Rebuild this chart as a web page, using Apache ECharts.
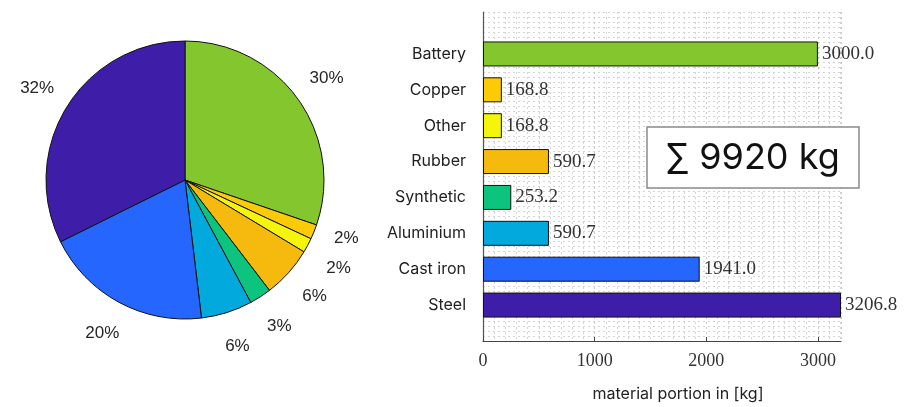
<!DOCTYPE html>
<html>
<head>
<meta charset="utf-8">
<script src="https://cdn.jsdelivr.net/npm/echarts@6/dist/echarts.min.js"></script>
<style>
  html, body { margin: 0; padding: 0; background: #fff; }
  #chart { width: 904px; height: 407px; }
</style>
</head>
<body>
<div id="chart"></div>
<script>
// materials, top of the bar chart first (pie goes clockwise from 12 o'clock in the same order)
var materials = ['Battery', 'Copper', 'Other', 'Rubber', 'Synthetic', 'Aluminium', 'Cast iron', 'Steel'];
var masses = [3000.0, 168.8, 168.8, 590.7, 253.2, 590.7, 1941.0, 3206.8];
var colors = ['#84c62d', '#fdcb05', '#f5f50c', '#f6b90d', '#0dc47f', '#02a9dc', '#2566fe', '#3e1ea8'];
var xTicks = [0, 1000, 2000, 3000];

var total = 0;
for (var i = 0; i < masses.length; i++) total += masses[i];
var maxMass = Math.max.apply(null, masses);

var pieData = [];
var labelData = [];
var barData = [];
for (var i = 0; i < materials.length; i++) {
  pieData.push({ name: materials[i], value: masses[i], itemStyle: { color: colors[i] } });
  labelData.push({ name: materials[i], value: masses[i] });
  barData.push({ value: masses[i], itemStyle: { color: colors[i] } });
}

function pct(p) {
  return Math.round(p.value / total * 100) + '%';
}

// the two thin slices (Copper, Other) get their labels pulled apart a bit
var labelNudge = { 1: -7, 2: 6 };

var dotted = { color: '#d4d4d4', width: 1, type: [2, 3] };

var chart = echarts.init(document.getElementById('chart'));
chart.setOption({
  animation: false,
  backgroundColor: '#fff',
  grid: [
    // frame with the dotted mesh and the x axis
    { left: 483, right: 63, top: 12, bottom: 62 },
    // bars
    { left: 483, right: 63, top: 36, bottom: 84 }
  ],
  xAxis: [{
    gridIndex: 0,
    type: 'value',
    min: xTicks[0],
    max: maxMass,
    interval: 1000,
    axisLine: { show: true, lineStyle: { color: '#444', width: 1.2 } },
    axisTick: { show: true, inside: true, length: 4, lineStyle: { color: '#444' } },
    axisLabel: {
      showMaxLabel: false,
      margin: 11,
      color: '#333',
      fontFamily: 'Liberation Serif',
      fontSize: 18,
      formatter: function(v) { return xTicks.indexOf(v) >= 0 ? String(v) : ''; }
    },
    splitLine: { show: true, lineStyle: { color: '#c8c8c8', width: 1, type: [2, 3] } },
    minorTick: { show: false, splitNumber: 10 },
    minorSplitLine: { show: true, lineStyle: dotted },
    name: 'material portion in [kg]',
    nameLocation: 'middle',
    nameGap: 45,
    nameTextStyle: { color: '#222', fontFamily: 'Inter', fontSize: 16, padding: [0, 0, 0, 32] }
  }, {
    gridIndex: 1,
    type: 'value',
    min: xTicks[0],
    max: maxMass,
    show: false
  }],
  yAxis: [{
    gridIndex: 0,
    type: 'value',
    min: 0,
    max: 66,
    interval: 1,
    axisLine: { show: true, lineStyle: { color: '#555', width: 1.2 } },
    axisTick: { show: false },
    axisLabel: { show: false },
    splitLine: { show: true, lineStyle: dotted }
  }, {
    gridIndex: 1,
    type: 'category',
    inverse: true,
    data: materials,
    axisLine: { show: false },
    axisTick: { show: false },
    axisLabel: { margin: 17, color: '#222', fontFamily: 'Inter', fontSize: 16 }
  }],
  graphic: [{
    type: 'rect',
    shape: { x: 647, y: 127, width: 212, height: 61 },
    style: { fill: '#fff', stroke: '#8a8a8a', lineWidth: 1.5 },
    z: 100
  }, {
    type: 'text',
    x: 753,
    y: 158,
    style: {
      text: '\u2211 ' + Math.round(total) + ' kg',
      fill: '#111',
      font: '36px Inter, "DejaVu Sans"',
      align: 'center',
      verticalAlign: 'middle'
    },
    z: 101
  }],
  series: [{
    type: 'pie',
    center: [185, 180],
    radius: 139,
    startAngle: 90,
    clockwise: true,
    data: pieData,
    label: { show: false },
    labelLine: { show: false },
    itemStyle: { borderColor: '#111', borderWidth: 1 },
    emphasis: { disabled: true }
  }, {
    // invisible ring, only carries the percent labels
    type: 'pie',
    center: [185, 180],
    radius: [160, 182],
    startAngle: 90,
    clockwise: true,
    silent: true,
    data: labelData,
    itemStyle: { color: 'rgba(0,0,0,0)', borderWidth: 0 },
    label: {
      show: true,
      position: 'inside',
      formatter: pct,
      color: '#262626',
      fontFamily: 'Liberation Sans',
      fontSize: 17
    },
    labelLine: { show: false },
    labelLayout: function(p) {
      return { hideOverlap: false, dy: labelNudge[p.dataIndex] || 0 };
    },
    emphasis: { disabled: true }
  }, {
    type: 'bar',
    xAxisIndex: 1,
    yAxisIndex: 1,
    data: barData,
    barWidth: 25,
    itemStyle: { borderColor: '#111', borderWidth: 1 },
    label: {
      show: true,
      position: 'right',
      distance: 4,
      color: '#333',
      fontFamily: 'Liberation Serif',
      fontSize: 19,
      formatter: function(p) { return p.value.toFixed(1); }
    },
    emphasis: { disabled: true }
  }]
});
</script>
</body>
</html>
